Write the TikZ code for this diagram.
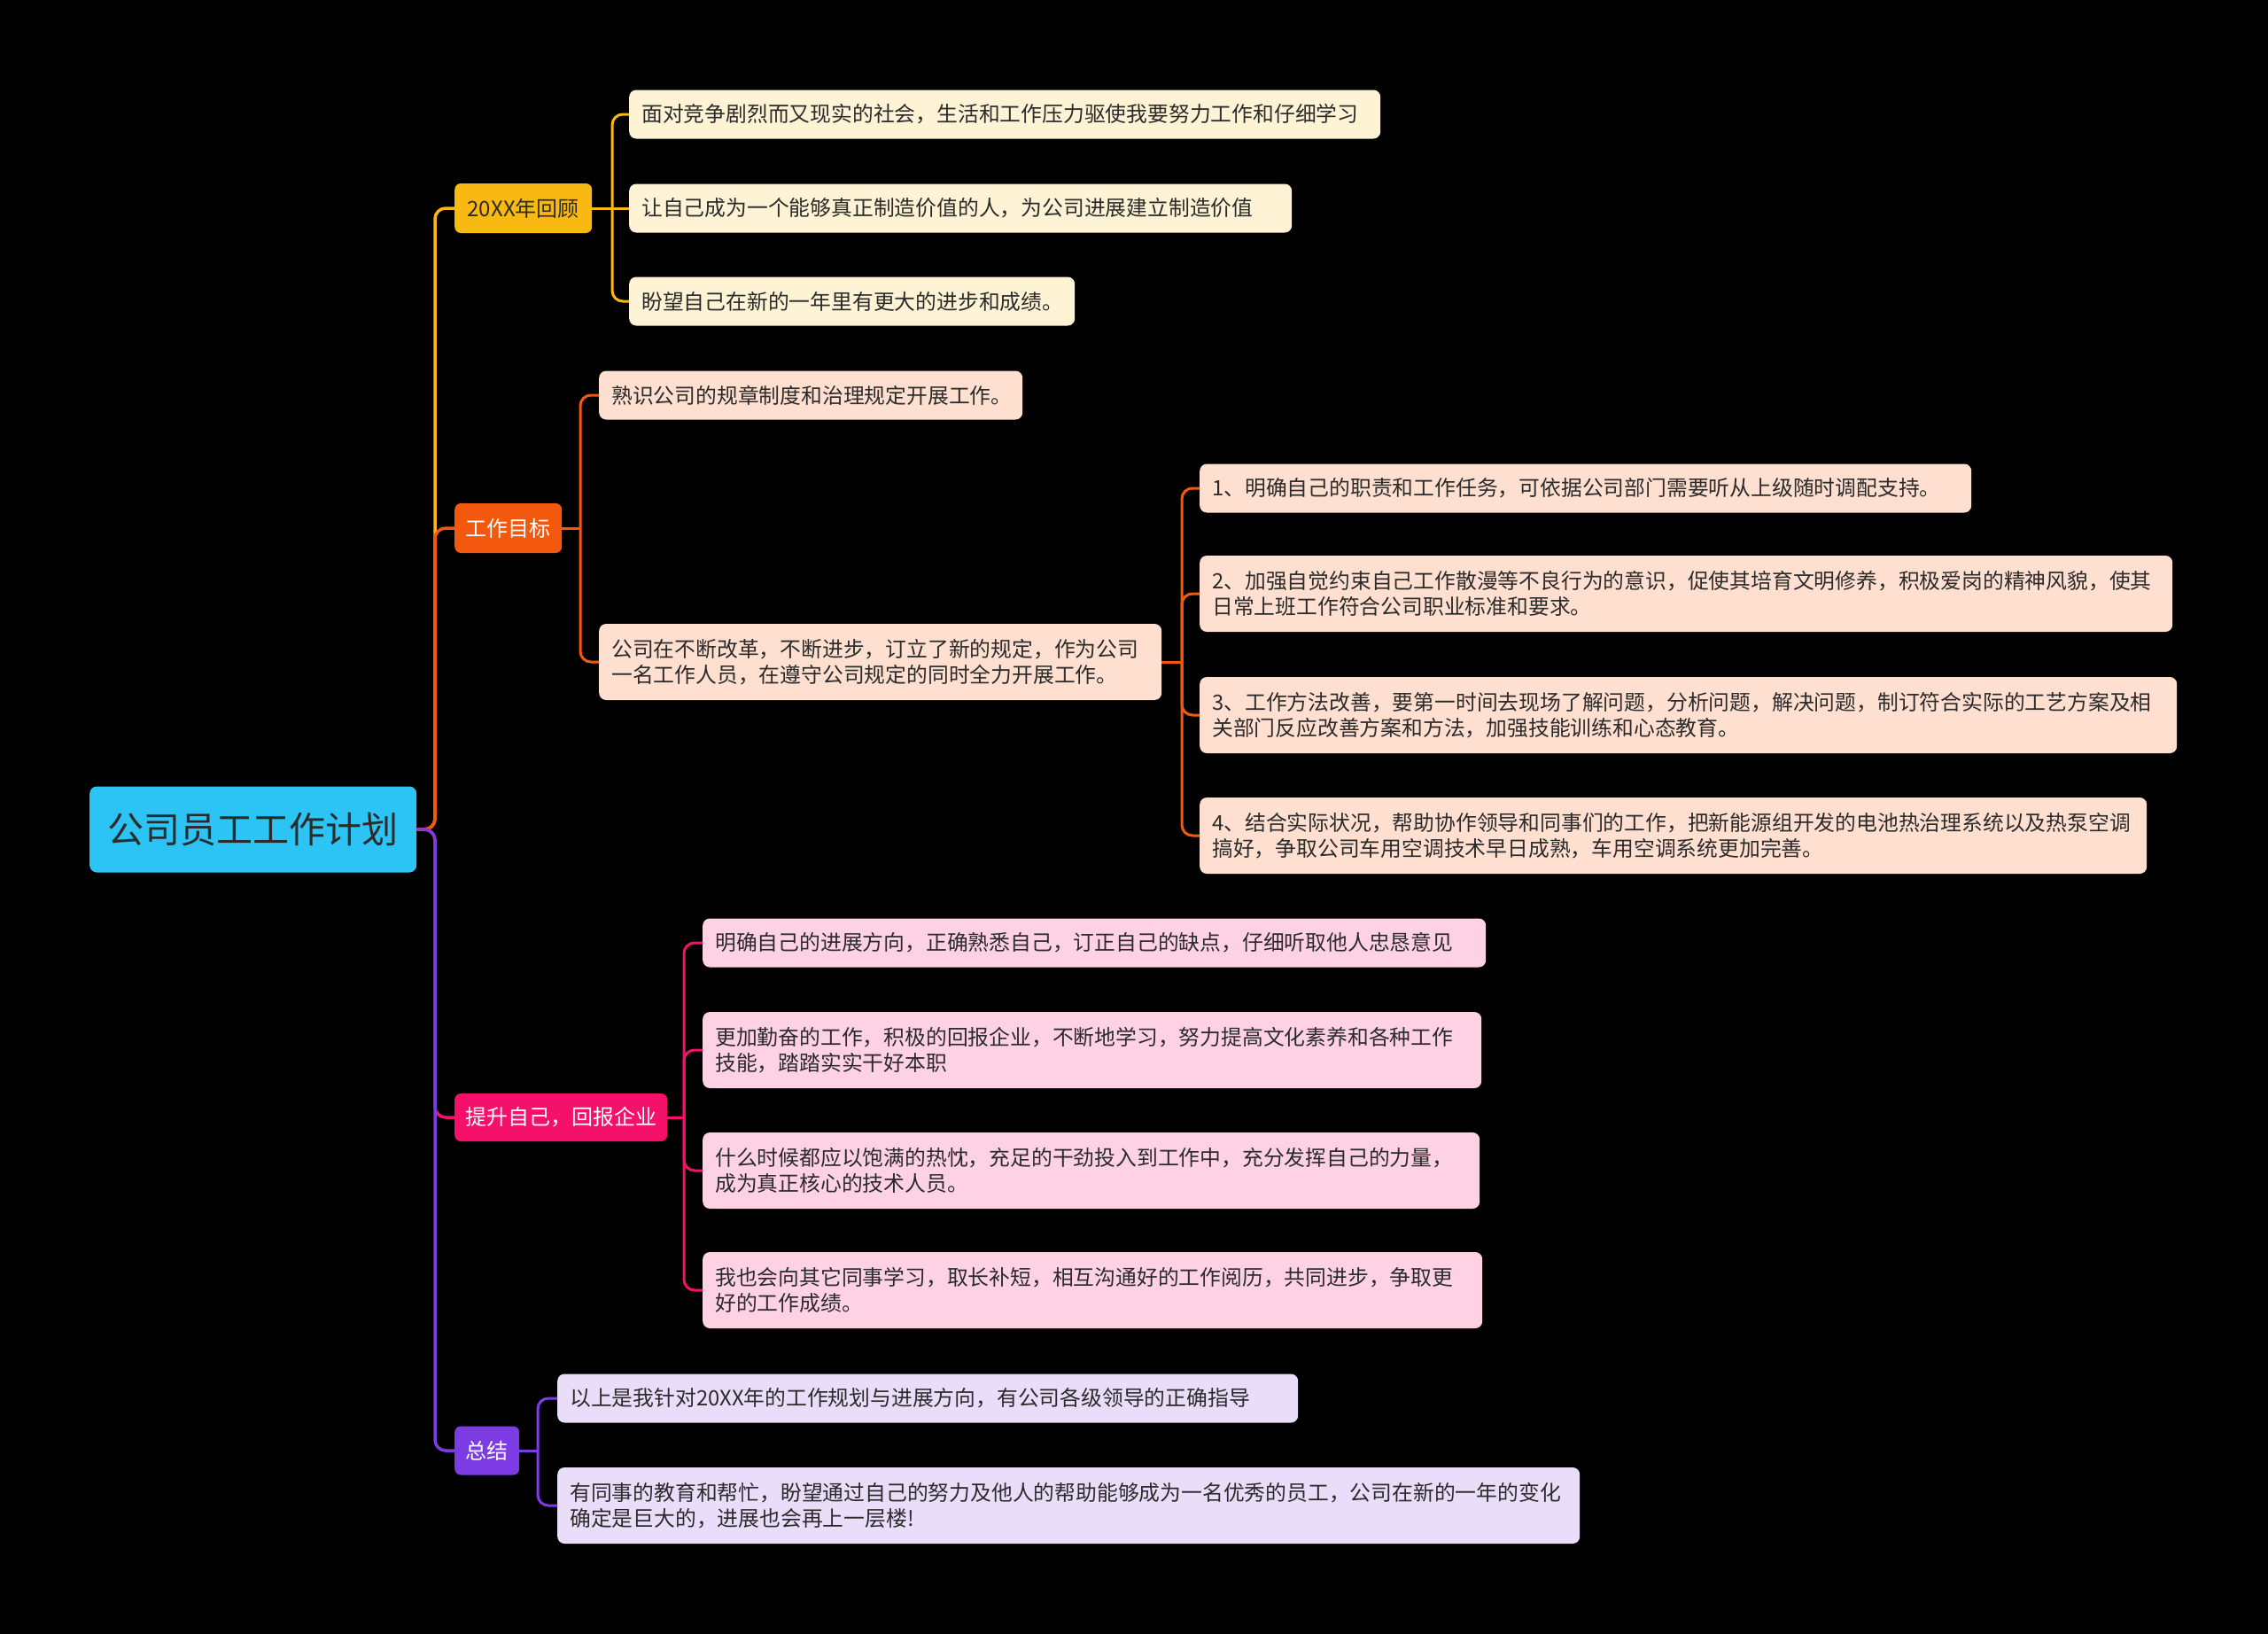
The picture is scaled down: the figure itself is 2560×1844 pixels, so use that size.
\documentclass[tikz,border=0pt]{standalone}
\usepackage{fontspec}
\setmainfont{Noto Sans CJK SC}
\definecolor{cRoot}{HTML}{2CC4F4}
\definecolor{cY}{HTML}{F8BA12}
\definecolor{cO}{HTML}{F3580F}
\definecolor{cP}{HTML}{F5106A}
\definecolor{cV}{HTML}{7D3CE3}
\definecolor{lY}{HTML}{FFF3D5}
\definecolor{lO}{HTML}{FFDFCF}
\definecolor{lP}{HTML}{FFD2E3}
\definecolor{lV}{HTML}{E9DDFA}
\definecolor{txt}{HTML}{2B2B2B}
\begin{document}
\begin{tikzpicture}[x=1pt,y=-1pt,
  rootbox/.style={fill=cRoot, rounded corners=8pt, anchor=west, inner sep=0pt, align=center, text=txt,
    font=\fontsize{41}{48}\selectfont, minimum width=369pt, minimum height=97pt},
  topic/.style={rounded corners=7pt, anchor=west, inner sep=0pt, align=center,
    font=\fontsize{24}{29}\selectfont, minimum height=56pt},
  leaf/.style={rounded corners=8pt, anchor=west, inner xsep=14pt, inner ysep=0pt, align=left, text=txt,
    font=\fontsize{23.8}{29.5}\selectfont},
  one/.style={minimum height=55pt},
  two/.style={minimum height=86pt},
  trunk/.style={line width=3.5pt, rounded corners=12pt},
  twig/.style={line width=3pt, rounded corners=12pt}
]
\fill[black] (0,0) rectangle (2560,1844);
\useasboundingbox (0,0) rectangle (2560,1844);

% root and topics
\node[rootbox] (root) at (101,936) {公司员工工作计划};
\node[topic, fill=cY, text=txt, minimum width=155pt] (t1) at (513,235) {20XX年回顾};
\node[topic, fill=cO, text=white, minimum width=121pt] (t2) at (513,596) {工作目标};
\node[topic, fill=cP, text=white, minimum width=240pt, minimum height=54pt] (t3) at (513,1261) {提升自己，回报企业};
\node[topic, fill=cV, text=white, minimum width=73pt, minimum height=55pt] (t4) at (513,1637) {总结};

% leaves of t1
\node[leaf, one, fill=lY, text width=820pt] (a1) at (710,129) {面对竞争剧烈而又现实的社会，生活和工作压力驱使我要努力工作和仔细学习};
\node[leaf, one, fill=lY, text width=720pt] (a2) at (710,235) {让自己成为一个能够真正制造价值的人，为公司进展建立制造价值};
\node[leaf, one, fill=lY, text width=475pt] (a3) at (710,340) {盼望自己在新的一年里有更大的进步和成绩。};

% leaves of t2
\node[leaf, one, fill=lO, text width=450pt] (b1) at (676,446) {熟识公司的规章制度和治理规定开展工作。};
\node[leaf, two, fill=lO, text width=607pt] (b2) at (676,747) {公司在不断改革，不断进步，订立了新的规定，作为公司\\一名工作人员，在遵守公司规定的同时全力开展工作。};

% leaves of b2
\node[leaf, one, fill=lO, text width=843pt] (c1) at (1354,551) {1、明确自己的职责和工作任务，可依据公司部门需要听从上级随时调配支持。};
\node[leaf, two, fill=lO, text width=1070pt] (c2) at (1354,670) {2、加强自觉约束自己工作散漫等不良行为的意识，促使其培育文明修养，积极爱岗的精神风貌，使其\\日常上班工作符合公司职业标准和要求。};
\node[leaf, two, fill=lO, text width=1075pt] (c3) at (1354,807) {3、工作方法改善，要第一时间去现场了解问题，分析问题，解决问题，制订符合实际的工艺方案及相\\关部门反应改善方案和方法，加强技能训练和心态教育。};
\node[leaf, two, fill=lO, text width=1041pt] (c4) at (1354,943) {4、结合实际状况，帮助协作领导和同事们的工作，把新能源组开发的电池热治理系统以及热泵空调\\搞好，争取公司车用空调技术早日成熟，车用空调系统更加完善。};

% leaves of t3
\node[leaf, one, fill=lP, text width=856pt] (d1) at (793,1064) {明确自己的进展方向，正确熟悉自己，订正自己的缺点，仔细听取他人忠恳意见};
\node[leaf, two, fill=lP, text width=851pt] (d2) at (793,1185) {更加勤奋的工作，积极的回报企业，不断地学习，努力提高文化素养和各种工作\\技能，踏踏实实干好本职};
\node[leaf, two, fill=lP, text width=849pt] (d3) at (793,1321) {什么时候都应以饱满的热忱，充足的干劲投入到工作中，充分发挥自己的力量，\\成为真正核心的技术人员。};
\node[leaf, two, fill=lP, text width=852pt] (d4) at (793,1456) {我也会向其它同事学习，取长补短，相互沟通好的工作阅历，共同进步，争取更\\好的工作成绩。};

% leaves of t4
\node[leaf, one, fill=lV, text width=808pt] (e1) at (629,1578) {以上是我针对20XX年的工作规划与进展方向，有公司各级领导的正确指导};
\node[leaf, two, fill=lV, text width=1126pt] (e2) at (629,1699) {有同事的教育和帮忙，盼望通过自己的努力及他人的帮助能够成为一名优秀的员工，公司在新的一年的变化\\确定是巨大的，进展也会再上一层楼!};

% junctions
\coordinate (jr) at (491,936);
\coordinate (j1) at (691,235);
\coordinate (j2) at (655,596);
\coordinate (jb) at (1334,747);
\coordinate (j3) at (772,1261);
\coordinate (j4) at (607,1637);

% trunk connectors
\draw[trunk, cY] (root.east) -- (jr) |- (t1.west);
\draw[trunk, cO] (root.east) -- (jr) |- (t2.west);
\draw[trunk, cP] (root.east) -- (jr) |- (t3.west);
\draw[trunk, cV] (root.east) -- (jr) |- (t4.west);

% twig connectors
\draw[twig, cY] (t1.east) -- (j1);
\draw[twig, cY] (j1) |- (a1.west);
\draw[twig, cY] (j1) -- (a2.west);
\draw[twig, cY] (j1) |- (a3.west);

\draw[twig, cO] (t2.east) -- (j2);
\draw[twig, cO] (j2) |- (b1.west);
\draw[twig, cO] (j2) |- (b2.west);

\draw[twig, cO] (b2.east) -- (jb);
\draw[twig, cO] (jb) |- (c1.west);
\draw[twig, cO] (jb) |- (c2.west);
\draw[twig, cO] (jb) |- (c3.west);
\draw[twig, cO] (jb) |- (c4.west);

\draw[twig, cP] (t3.east) -- (j3);
\draw[twig, cP] (j3) |- (d1.west);
\draw[twig, cP] (j3) |- (d2.west);
\draw[twig, cP] (j3) |- (d3.west);
\draw[twig, cP] (j3) |- (d4.west);

\draw[twig, cV] (t4.east) -- (j4);
\draw[twig, cV] (j4) |- (e1.west);
\draw[twig, cV] (j4) |- (e2.west);
\end{tikzpicture}
\end{document}
